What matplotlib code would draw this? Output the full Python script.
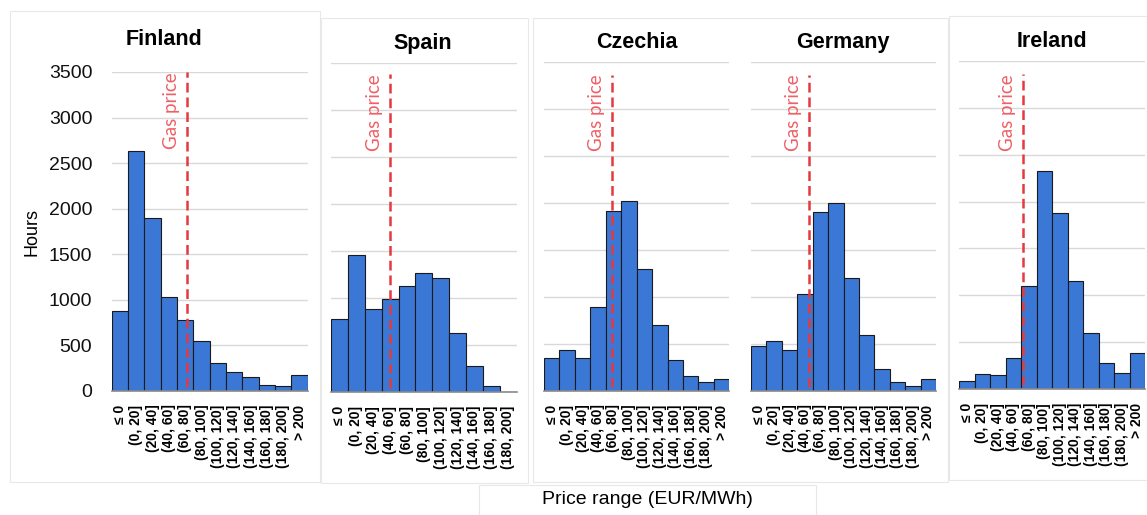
import matplotlib
matplotlib.use('Agg')
import matplotlib.pyplot as plt
from matplotlib.patches import Rectangle

plt.rcParams['font.family'] = ['Liberation Sans', 'DejaVu Sans']

bins = ['≤ 0', '(0, 20]', '(20, 40]', '(40, 60]', '(60, 80]', '(80, 100]',
        '(100, 120]', '(120, 140]', '(140, 160]', '(160, 180]', '(180, 200]', '> 200']

countries = ['Finland', 'Spain', 'Czechia', 'Germany', 'Ireland']
finland = [871, 2632, 1894, 1027, 772, 541, 300, 201, 154, 62, 55, 172]
spain = [773, 1454, 880, 993, 1124, 1262, 1213, 628, 280, 60, 0]
czechia = [348, 436, 348, 894, 1912, 2018, 1291, 702, 330, 156, 93, 121]
germany = [472, 529, 433, 1025, 1904, 1993, 1196, 589, 227, 92, 53, 121]
ireland = [85, 160, 150, 328, 1100, 2323, 1875, 1156, 594, 274, 167, 381]
hours = [finland, spain, czechia, germany, ireland]

# gas price in EUR/MWh
gas_price = [72, 50, 68, 55, 62]
yticks = [0, 500, 1000, 1500, 2000, 2500, 3000, 3500]

W, H = 1147, 515
fig = plt.figure(figsize=(W / 100, H / 100), dpi=100)
fig.patch.set_facecolor('white')


def box(x0, y0, x1, y1):
    # pixel box (top-left origin) -> figure fraction
    return [x0 / W, 1 - y1 / H, (x1 - x0) / W, (y1 - y0) / H]


# panel frames
for x0, y0, x1, y1 in [(10, 11, 320, 482), (321, 18, 528, 483), (533, 18, 948, 482),
                       (949, 16, 1147, 480), (479, 485, 816, 520)]:
    fig.add_artist(Rectangle((x0 / W, 1 - y1 / H), (x1 - x0) / W, (y1 - y0) / H,
                             transform=fig.transFigure, facecolor='white',
                             edgecolor='#e8e8e8', lw=0.8, zorder=0))

axes_px = [(111.7, 72, 307.7, 390.7), (331, 63, 516.7, 392), (544, 61.7, 729.3, 390.7),
           (751, 61.7, 936, 390.7), (959, 61, 1145, 389)]
title_px = [(164, 45), (423, 49), (637, 48), (843, 48), (1052, 47)]
gas_top = [3500, 3380, 3360, 3360, 3360]

for i, name in enumerate(countries):
    ax = fig.add_axes(box(*axes_px[i]))
    vals = hours[i]
    labels = bins[:len(vals)]
    xs = range(len(vals))
    ax.bar(xs, vals, width=1.0, color='#3b78d6', edgecolor='#1a1a1a', lw=0.8, zorder=3)
    ax.set_xlim(-0.5, len(vals) - 0.5)
    ax.set_ylim(0, 3500)
    ax.set_yticks(yticks)
    ax.grid(axis='y', color='#d9d9d9', lw=1.0, zorder=0)
    ax.set_axisbelow(True)
    for s in ['top', 'right', 'left']:
        ax.spines[s].set_visible(False)
    ax.spines['bottom'].set_color('#8a8a8a')
    ax.spines['bottom'].set_linewidth(1.2)
    ax.spines['bottom'].set_zorder(4)
    ax.set_xticks(list(xs))
    ax.set_xticklabels(labels, rotation=90, fontsize=10, fontweight='bold')
    ax.tick_params(axis='x', length=0, pad=10)
    ax.tick_params(axis='y', length=0, pad=14, labelsize=14, labelcolor='#111111')
    if i > 0:
        ax.set_yticklabels([])
    ax.set_facecolor('none')

    gx = (gas_price[i] + 10) / 20
    ax.plot([gx, gx], [40, gas_top[i]], color='#e4393d', lw=1.8,
            linestyle=(0, (3.9, 2.0)), zorder=5, solid_capstyle='butt')
    ax.annotate('Gas price', xy=(gx, gas_top[i]), xytext=(-11, 0), textcoords='offset points',
                rotation=90, ha='center', va='top', color='#ee6065', fontsize=13.5,
                family=['Lato', 'DejaVu Sans'], zorder=5)

    tx, ty = title_px[i]
    fig.text(tx / W, 1 - ty / H, name, ha='center', va='baseline',
             fontsize=15.5, fontweight='bold')

fig.text(32 / W, 1 - 232 / H, 'Hours', rotation=90, ha='center', va='center', fontsize=13)
fig.text(647 / W, 1 - 500 / H, 'Price range (EUR/MWh)', ha='center', va='center', fontsize=14)

fig.savefig('out.png', dpi=100, facecolor='white')
